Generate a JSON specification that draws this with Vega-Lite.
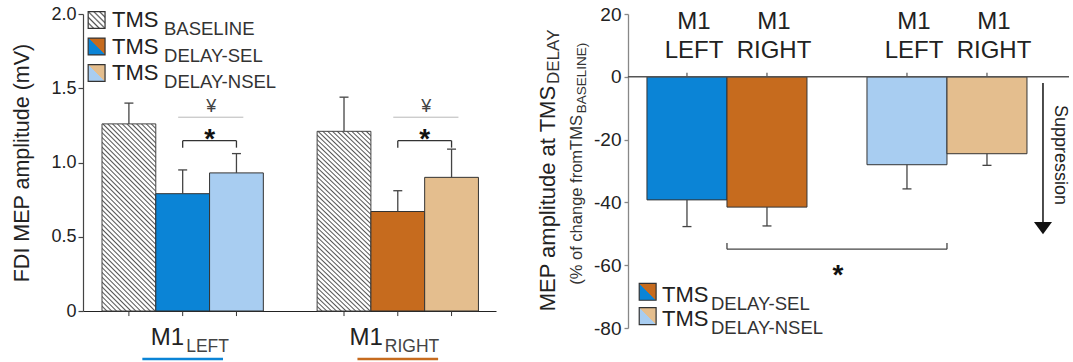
{
"$schema": "https://vega.github.io/schema/vega-lite/v6.json",
"padding": {"left": 11, "top": 5, "right": 0, "bottom": 0},
"bounds": "flush",
"spacing": 132,
"resolve": {"scale": {"xOffset": "independent"}},
"config": {"view": {"stroke": null}, "font": "Liberation Sans", "axis": {"grid": false, "labelColor": "#222", "titleColor": "#222", "titleFontWeight": "normal", "labelFont": "Liberation Sans", "titleFont": "Liberation Sans"}},
"datasets": {
"left": [
{"hemi": "LEFT", "cond": "BASELINE", "series": "LEFT BASELINE", "mep": 1.26, "upper": 1.40},
{"hemi": "LEFT", "cond": "SEL", "series": "LEFT SEL", "mep": 0.79, "upper": 0.95},
{"hemi": "LEFT", "cond": "NSEL", "series": "LEFT NSEL", "mep": 0.93, "upper": 1.06},
{"hemi": "RIGHT", "cond": "BASELINE", "series": "RIGHT BASELINE", "mep": 1.21, "upper": 1.44},
{"hemi": "RIGHT", "cond": "SEL", "series": "RIGHT SEL", "mep": 0.67, "upper": 0.81},
{"hemi": "RIGHT", "cond": "NSEL", "series": "RIGHT NSEL", "mep": 0.90, "upper": 1.09}
],
"right": [
{"cond": "SEL", "hemi": "LEFT", "series": "LEFT SEL", "pct": -39.2, "lower": -47.7},
{"cond": "SEL", "hemi": "RIGHT", "series": "RIGHT SEL", "pct": -41.5, "lower": -47.5},
{"cond": "NSEL", "hemi": "LEFT", "series": "LEFT NSEL", "pct": -28.0, "lower": -35.7},
{"cond": "NSEL", "hemi": "RIGHT", "series": "RIGHT NSEL", "pct": -24.5, "lower": -28.2}
],
"legendLeft": [{"entry": "BASELINE", "rank": 0}, {"entry": "DELAY-SEL", "rank": 1}, {"entry": "DELAY-NSEL", "rank": 2}],
"legendRight": [{"entry": "DELAY-SEL", "rank": 0}, {"entry": "DELAY-NSEL", "rank": 1}]
},
"hconcat": [
{
"width": 413, "height": 297,
"resolve": {"scale": {"y": "independent"}},
"layer": [
{
"data": {"name": "left"},
"encoding": {
"x": {"field": "hemi", "type": "nominal", "scale": {"domain": ["LEFT", "RIGHT"], "paddingInner": 0.25, "paddingOuter": 0.085, "align": 0.52}, "axis": {"title": null, "labels": false, "ticks": false, "domainColor": "#222", "domainWidth": 1.2}},
"y": {"field": "mep", "type": "quantitative", "title": "FDI MEP amplitude (mV)", "scale": {"domain": [0, 2], "nice": false}, "axis": {"values": [0, 0.5, 1, 1.5, 2], "labelExpr": "datum.value == 0 ? '0' : format(datum.value, '.1f')", "labelFontSize": 18, "titleFontSize": 21.5, "titlePadding": 17, "tickSize": 5, "labelPadding": 2, "domainColor": "#444", "tickColor": "#444", "domainWidth": 1.2, "tickWidth": 1.2}}
},
"layer": [
{"transform": [{"filter": "datum.cond === 'BASELINE'"}],
 "mark": {"type": "bar", "stroke": "#444", "strokeWidth": 1, "fill": {"gradient": "linear", "x1": 0, "y1": 1, "x2": 0.342, "y2": -0.19, "stops": [
{"offset":0,"color":"#555"},{"offset":0.006,"color":"#fff"},{"offset":0.014,"color":"#fff"},
{"offset":0.02,"color":"#555"},{"offset":0.026,"color":"#fff"},{"offset":0.034,"color":"#fff"},
{"offset":0.04,"color":"#555"},{"offset":0.046,"color":"#fff"},{"offset":0.054,"color":"#fff"},
{"offset":0.06,"color":"#555"},{"offset":0.066,"color":"#fff"},{"offset":0.074,"color":"#fff"},
{"offset":0.08,"color":"#555"},{"offset":0.086,"color":"#fff"},{"offset":0.094,"color":"#fff"},
{"offset":0.1,"color":"#555"},{"offset":0.106,"color":"#fff"},{"offset":0.114,"color":"#fff"},
{"offset":0.12,"color":"#555"},{"offset":0.126,"color":"#fff"},{"offset":0.134,"color":"#fff"},
{"offset":0.14,"color":"#555"},{"offset":0.146,"color":"#fff"},{"offset":0.154,"color":"#fff"},
{"offset":0.16,"color":"#555"},{"offset":0.166,"color":"#fff"},{"offset":0.174,"color":"#fff"},
{"offset":0.18,"color":"#555"},{"offset":0.186,"color":"#fff"},{"offset":0.194,"color":"#fff"},
{"offset":0.2,"color":"#555"},{"offset":0.206,"color":"#fff"},{"offset":0.214,"color":"#fff"},
{"offset":0.22,"color":"#555"},{"offset":0.226,"color":"#fff"},{"offset":0.234,"color":"#fff"},
{"offset":0.24,"color":"#555"},{"offset":0.246,"color":"#fff"},{"offset":0.254,"color":"#fff"},
{"offset":0.26,"color":"#555"},{"offset":0.266,"color":"#fff"},{"offset":0.274,"color":"#fff"},
{"offset":0.28,"color":"#555"},{"offset":0.286,"color":"#fff"},{"offset":0.294,"color":"#fff"},
{"offset":0.3,"color":"#555"},{"offset":0.306,"color":"#fff"},{"offset":0.314,"color":"#fff"},
{"offset":0.32,"color":"#555"},{"offset":0.326,"color":"#fff"},{"offset":0.334,"color":"#fff"},
{"offset":0.34,"color":"#555"},{"offset":0.346,"color":"#fff"},{"offset":0.354,"color":"#fff"},
{"offset":0.36,"color":"#555"},{"offset":0.366,"color":"#fff"},{"offset":0.374,"color":"#fff"},
{"offset":0.38,"color":"#555"},{"offset":0.386,"color":"#fff"},{"offset":0.394,"color":"#fff"},
{"offset":0.4,"color":"#555"},{"offset":0.406,"color":"#fff"},{"offset":0.414,"color":"#fff"},
{"offset":0.42,"color":"#555"},{"offset":0.426,"color":"#fff"},{"offset":0.434,"color":"#fff"},
{"offset":0.44,"color":"#555"},{"offset":0.446,"color":"#fff"},{"offset":0.454,"color":"#fff"},
{"offset":0.46,"color":"#555"},{"offset":0.466,"color":"#fff"},{"offset":0.474,"color":"#fff"},
{"offset":0.48,"color":"#555"},{"offset":0.486,"color":"#fff"},{"offset":0.494,"color":"#fff"},
{"offset":0.5,"color":"#555"},{"offset":0.506,"color":"#fff"},{"offset":0.514,"color":"#fff"},
{"offset":0.52,"color":"#555"},{"offset":0.526,"color":"#fff"},{"offset":0.534,"color":"#fff"},
{"offset":0.54,"color":"#555"},{"offset":0.546,"color":"#fff"},{"offset":0.554,"color":"#fff"},
{"offset":0.56,"color":"#555"},{"offset":0.566,"color":"#fff"},{"offset":0.574,"color":"#fff"},
{"offset":0.58,"color":"#555"},{"offset":0.586,"color":"#fff"},{"offset":0.594,"color":"#fff"},
{"offset":0.6,"color":"#555"},{"offset":0.606,"color":"#fff"},{"offset":0.614,"color":"#fff"},
{"offset":0.62,"color":"#555"},{"offset":0.626,"color":"#fff"},{"offset":0.634,"color":"#fff"},
{"offset":0.64,"color":"#555"},{"offset":0.646,"color":"#fff"},{"offset":0.654,"color":"#fff"},
{"offset":0.66,"color":"#555"},{"offset":0.666,"color":"#fff"},{"offset":0.674,"color":"#fff"},
{"offset":0.68,"color":"#555"},{"offset":0.686,"color":"#fff"},{"offset":0.694,"color":"#fff"},
{"offset":0.7,"color":"#555"},{"offset":0.706,"color":"#fff"},{"offset":0.714,"color":"#fff"},
{"offset":0.72,"color":"#555"},{"offset":0.726,"color":"#fff"},{"offset":0.734,"color":"#fff"},
{"offset":0.74,"color":"#555"},{"offset":0.746,"color":"#fff"},{"offset":0.754,"color":"#fff"},
{"offset":0.76,"color":"#555"},{"offset":0.766,"color":"#fff"},{"offset":0.774,"color":"#fff"},
{"offset":0.78,"color":"#555"},{"offset":0.786,"color":"#fff"},{"offset":0.794,"color":"#fff"},
{"offset":0.8,"color":"#555"},{"offset":0.806,"color":"#fff"},{"offset":0.814,"color":"#fff"},
{"offset":0.82,"color":"#555"},{"offset":0.826,"color":"#fff"},{"offset":0.834,"color":"#fff"},
{"offset":0.84,"color":"#555"},{"offset":0.846,"color":"#fff"},{"offset":0.854,"color":"#fff"},
{"offset":0.86,"color":"#555"},{"offset":0.866,"color":"#fff"},{"offset":0.874,"color":"#fff"},
{"offset":0.88,"color":"#555"},{"offset":0.886,"color":"#fff"},{"offset":0.894,"color":"#fff"},
{"offset":0.9,"color":"#555"},{"offset":0.906,"color":"#fff"},{"offset":0.914,"color":"#fff"},
{"offset":0.92,"color":"#555"},{"offset":0.926,"color":"#fff"},{"offset":0.934,"color":"#fff"},
{"offset":0.94,"color":"#555"},{"offset":0.946,"color":"#fff"},{"offset":0.954,"color":"#fff"},
{"offset":0.96,"color":"#555"},{"offset":0.966,"color":"#fff"},{"offset":0.974,"color":"#fff"},
{"offset":0.98,"color":"#555"},{"offset":0.986,"color":"#fff"},{"offset":0.994,"color":"#fff"},
{"offset":1,"color":"#555"}]}},
 "encoding": {"xOffset": {"field": "cond", "type": "nominal", "scale": {"domain": ["BASELINE", "SEL", "NSEL"], "paddingInner": 0, "paddingOuter": 0}}}},
{"transform": [{"filter": "datum.cond !== 'BASELINE'"}],
 "mark": {"type": "bar", "stroke": "#333", "strokeWidth": 1},
 "encoding": {"xOffset": {"field": "cond", "type": "nominal"}, "fill": {"field": "series", "type": "nominal", "scale": {"domain": ["LEFT SEL", "LEFT NSEL", "RIGHT SEL", "RIGHT NSEL"], "range": ["#0b84d6", "#a8cdf1", "#c66b1e", "#e4be8e"]}, "legend": null}}},
{"mark": {"type": "rule", "color": "#444", "strokeWidth": 1.3},
 "encoding": {"xOffset": {"field": "cond", "type": "nominal"}, "y2": {"field": "upper"}}},
{"mark": {"type": "tick", "color": "#444", "size": 9, "thickness": 1.3, "opacity": 1},
 "encoding": {"xOffset": {"field": "cond", "type": "nominal"}, "y": {"field": "upper", "type": "quantitative", "title": "FDI MEP amplitude (mV)"}}},
{"mark": {"type": "rule", "color": "#333", "strokeWidth": 1},
 "encoding": {"xOffset": {"field": "cond", "type": "nominal"}, "y": {"datum": 0}, "y2": {"datum": -0.034}}},
{"transform": [{"filter": "datum.cond === 'SEL'"}], "mark": {"type": "rule", "color": "#b8b8b8", "strokeWidth": 1},
 "encoding": {"x": {"field": "hemi", "type": "nominal", "bandPosition": 0.472}, "x2": {"field": "hemi", "bandPosition": 0.876}, "y": {"datum": 1.305}}},
{"transform": [{"filter": "datum.cond === 'SEL'"}], "mark": {"type": "text", "text": "¥", "fontSize": 18, "color": "#444", "baseline": "alphabetic"},
 "encoding": {"x": {"field": "hemi", "type": "nominal", "bandPosition": 0.677}, "y": {"datum": 1.34}}},
{"transform": [{"filter": "datum.cond === 'SEL'"}], "mark": {"type": "rule", "color": "#333", "strokeWidth": 1.3},
 "encoding": {"x": {"field": "hemi", "type": "nominal", "bandPosition": 0.5}, "x2": {"field": "hemi", "bandPosition": 0.833}, "y": {"datum": 1.147}}},
{"transform": [{"filter": "datum.cond !== 'BASELINE'"}], "mark": {"type": "rule", "color": "#333", "strokeWidth": 1.3},
 "encoding": {"xOffset": {"field": "cond", "type": "nominal"}, "y": {"datum": 1.147}, "y2": {"datum": 1.10}}},
{"transform": [{"filter": "datum.cond === 'SEL'"}], "mark": {"type": "text", "text": "*", "fontSize": 28, "fontWeight": "bold", "color": "#111", "baseline": "alphabetic"},
 "encoding": {"x": {"field": "hemi", "type": "nominal", "bandPosition": 0.667}, "y": {"datum": 1.10}}},
{"transform": [{"filter": "datum.cond === 'SEL'"}], "mark": {"type": "rule", "strokeWidth": 2.5},
 "encoding": {"x": {"field": "hemi", "type": "nominal", "bandPosition": 0.25}, "x2": {"field": "hemi", "bandPosition": 0.75}, "y": {"datum": -0.323}, "stroke": {"field": "hemi", "type": "nominal", "scale": {"domain": ["LEFT", "RIGHT"], "range": ["#0b84d6", "#c66b1e"]}, "legend": null}}},
{"transform": [{"filter": "datum.cond === 'SEL' && datum.hemi === 'LEFT'"}], "mark": {"type": "text", "text": "M1", "align": "right", "baseline": "alphabetic", "fontSize": 24, "dx": 1.5, "color": "#222"},
 "encoding": {"y": {"datum": -0.229}}},
{"transform": [{"filter": "datum.cond === 'SEL' && datum.hemi === 'LEFT'"}], "mark": {"type": "text", "align": "left", "baseline": "alphabetic", "fontSize": 17.5, "dx": 3.5, "color": "#444"},
 "encoding": {"y": {"datum": -0.276}, "text": {"field": "hemi"}}},
{"transform": [{"filter": "datum.cond === 'SEL' && datum.hemi === 'RIGHT'"}], "mark": {"type": "text", "text": "M1", "align": "right", "baseline": "alphabetic", "fontSize": 24, "dx": -15, "color": "#222"},
 "encoding": {"y": {"datum": -0.229}}},
{"transform": [{"filter": "datum.cond === 'SEL' && datum.hemi === 'RIGHT'"}], "mark": {"type": "text", "align": "left", "baseline": "alphabetic", "fontSize": 17.5, "dx": -13, "color": "#444"},
 "encoding": {"y": {"datum": -0.276}, "text": {"field": "hemi"}}}
]
},
{
"data": {"name": "legendLeft"},
"encoding": {"y": {"field": "rank", "type": "quantitative", "scale": {"domain": [-0.226, 10.98], "reverse": true, "nice": false, "zero": false}, "axis": null}},
"layer": [
{"transform": [{"filter": "datum.entry === 'BASELINE'"}],
 "mark": {"type": "point", "shape": "square", "size": 285, "filled": true, "opacity": 1, "stroke": "#333", "strokeWidth": 1.2, "fill": {"gradient": "linear", "x1": 0, "y1": 1, "x2": 1, "y2": 0, "stops": [
{"offset":0,"color":"#555"},{"offset":0.05,"color":"#fff"},{"offset":0.117,"color":"#fff"},
{"offset":0.1667,"color":"#555"},{"offset":0.2167,"color":"#fff"},{"offset":0.2833,"color":"#fff"},
{"offset":0.3333,"color":"#555"},{"offset":0.3833,"color":"#fff"},{"offset":0.45,"color":"#fff"},
{"offset":0.5,"color":"#555"},{"offset":0.55,"color":"#fff"},{"offset":0.6167,"color":"#fff"},
{"offset":0.6667,"color":"#555"},{"offset":0.7167,"color":"#fff"},{"offset":0.7833,"color":"#fff"},
{"offset":0.8333,"color":"#555"},{"offset":0.8833,"color":"#fff"},{"offset":0.95,"color":"#fff"},
{"offset":1,"color":"#555"}]}},
 "encoding": {"x": {"datum": "LEFT", "type": "nominal", "bandPosition": -0.0335}}},
{"transform": [{"filter": "datum.entry === 'DELAY-SEL'"}],
 "mark": {"type": "point", "shape": "square", "size": 285, "filled": true, "opacity": 1, "stroke": "#333", "strokeWidth": 1.2, "fill": {"gradient": "linear", "x1": 0, "y1": 1, "x2": 1, "y2": 0, "stops": [{"offset": 0, "color": "#0b84d6"}, {"offset": 0.5, "color": "#0b84d6"}, {"offset": 0.5, "color": "#c66b1e"}, {"offset": 1, "color": "#c66b1e"}]}},
 "encoding": {"x": {"datum": "LEFT", "type": "nominal", "bandPosition": -0.0335}}},
{"transform": [{"filter": "datum.entry === 'DELAY-NSEL'"}],
 "mark": {"type": "point", "shape": "square", "size": 285, "filled": true, "opacity": 1, "stroke": "#333", "strokeWidth": 1.2, "fill": {"gradient": "linear", "x1": 0, "y1": 1, "x2": 1, "y2": 0, "stops": [{"offset": 0, "color": "#a8cdf1"}, {"offset": 0.5, "color": "#a8cdf1"}, {"offset": 0.5, "color": "#e4be8e"}, {"offset": 1, "color": "#e4be8e"}]}},
 "encoding": {"x": {"datum": "LEFT", "type": "nominal", "bandPosition": -0.0335}}},
{"mark": {"type": "text", "text": "TMS", "align": "left", "baseline": "alphabetic", "fontSize": 22, "dx": 10, "dy": 7.3, "color": "#222"},
 "encoding": {"x": {"datum": "LEFT", "type": "nominal", "bandPosition": 0}}},
{"mark": {"type": "text", "align": "left", "baseline": "alphabetic", "fontSize": 18.5, "dx": 62, "dy": 15.5, "color": "#333"},
 "encoding": {"x": {"datum": "LEFT", "type": "nominal", "bandPosition": 0}, "text": {"field": "entry"}}}
]
}
]
},
{
"width": 441, "height": 314,
"resolve": {"scale": {"y": "independent"}},
"layer": [
{
"data": {"name": "right"},
"encoding": {
"x": {"field": "cond", "type": "nominal", "scale": {"domain": ["SEL", "NSEL"], "paddingInner": 0.2727, "paddingOuter": 0.1386, "align": 0.311}, "axis": null},
"y": {"field": "pct", "type": "quantitative", "scale": {"domain": [-80, 20], "nice": false}, "axis": {"values": [-80, -60, -40, -20, 0, 20], "labelExpr": "'' + datum.value", "title": null, "labelFontSize": 19, "tickSize": 4, "labelPadding": 3, "domainColor": "#888", "tickColor": "#888", "domainWidth": 1.3, "tickWidth": 1.3}}
},
"layer": [
{"mark": {"type": "bar", "stroke": "#333", "strokeWidth": 1},
 "encoding": {"xOffset": {"field": "hemi", "type": "nominal", "scale": {"domain": ["LEFT", "RIGHT"], "paddingInner": 0, "paddingOuter": 0}},
 "fill": {"field": "series", "type": "nominal", "scale": {"domain": ["LEFT SEL", "LEFT NSEL", "RIGHT SEL", "RIGHT NSEL"], "range": ["#0b84d6", "#a8cdf1", "#c66b1e", "#e4be8e"]}, "legend": null}}},
{"mark": {"type": "rule", "color": "#444", "strokeWidth": 1.3},
 "encoding": {"xOffset": {"field": "hemi", "type": "nominal"}, "y2": {"field": "lower"}}},
{"mark": {"type": "tick", "color": "#444", "size": 9, "thickness": 1.3, "opacity": 1},
 "encoding": {"xOffset": {"field": "hemi", "type": "nominal"}, "y": {"field": "lower", "type": "quantitative"}}},
{"transform": [{"filter": "datum.cond === 'SEL' && datum.hemi === 'LEFT'"}], "mark": {"type": "rule", "color": "#555", "strokeWidth": 1.4},
 "encoding": {"x": {"datum": "SEL", "type": "nominal", "bandPosition": -0.119}, "x2": {"datum": "NSEL", "bandPosition": 1.2625}, "y": {"datum": 0}}},
{"mark": {"type": "rule", "color": "#555", "strokeWidth": 1.2},
 "encoding": {"xOffset": {"field": "hemi", "type": "nominal"}, "y": {"datum": 0}, "y2": {"datum": 1.3}}},
{"mark": {"type": "text", "text": "M1", "fontSize": 24, "baseline": "alphabetic", "dx": 7, "color": "#222"},
 "encoding": {"xOffset": {"field": "hemi", "type": "nominal"}, "y": {"datum": 15.1}}},
{"mark": {"type": "text", "fontSize": 24, "baseline": "alphabetic", "dx": 7, "color": "#222"},
 "encoding": {"xOffset": {"field": "hemi", "type": "nominal"}, "y": {"datum": 5.9}, "text": {"field": "hemi"}}},
{"transform": [{"filter": "datum.cond === 'SEL' && datum.hemi === 'LEFT'"}], "mark": {"type": "rule", "color": "#444", "strokeWidth": 1.3},
 "encoding": {"x": {"datum": "SEL", "type": "nominal", "bandPosition": 0.5}, "x2": {"datum": "NSEL", "bandPosition": 0.5}, "y": {"datum": -54.9}}},
{"transform": [{"filter": "datum.hemi === 'LEFT'"}], "mark": {"type": "rule", "color": "#444", "strokeWidth": 1.3},
 "encoding": {"x": {"field": "cond", "type": "nominal", "bandPosition": 0.5}, "y": {"datum": -54.9}, "y2": {"datum": -52.9}}},
{"transform": [{"filter": "datum.cond === 'SEL' && datum.hemi === 'LEFT'"}], "mark": {"type": "text", "text": "*", "fontSize": 28, "fontWeight": "bold", "color": "#111", "baseline": "alphabetic"},
 "encoding": {"x": {"datum": "SEL", "type": "nominal", "bandPosition": 1.194}, "y": {"datum": -66.0}}},
{"transform": [{"filter": "datum.cond === 'SEL' && datum.hemi === 'LEFT'"}], "mark": {"type": "rule", "color": "#111", "strokeWidth": 1.5},
 "encoding": {"x": {"datum": "NSEL", "type": "nominal", "bandPosition": 1.1}, "y": {"datum": -2.0}, "y2": {"datum": -46.6}}},
{"transform": [{"filter": "datum.cond === 'SEL' && datum.hemi === 'LEFT'"}], "mark": {"type": "point", "shape": "M-1,-0.67L1,-0.67L0,0.67Z", "size": 324, "filled": true, "opacity": 1, "color": "#111"},
 "encoding": {"x": {"datum": "NSEL", "type": "nominal", "bandPosition": 1.1}, "y": {"datum": -48.2}}},
{"transform": [{"filter": "datum.cond === 'SEL' && datum.hemi === 'LEFT'"}], "mark": {"type": "text", "text": "Suppression", "angle": 90, "fontSize": 18, "align": "center", "baseline": "middle", "color": "#222"},
 "encoding": {"x": {"datum": "NSEL", "type": "nominal", "bandPosition": 1.206}, "y": {"datum": -24.9}}},
{"transform": [{"filter": "datum.cond === 'SEL' && datum.hemi === 'LEFT'"}], "mark": {"type": "text", "text": "MEP amplitude at TMS", "angle": 270, "align": "right", "baseline": "alphabetic", "fontSize": 22, "color": "#222"},
 "encoding": {"x": {"datum": "SEL", "type": "nominal", "bandPosition": -0.575}, "y": {"datum": -2.9}}},
{"transform": [{"filter": "datum.cond === 'SEL' && datum.hemi === 'LEFT'"}], "mark": {"type": "text", "text": "DELAY", "angle": 270, "align": "left", "baseline": "alphabetic", "fontSize": 17, "color": "#333"},
 "encoding": {"x": {"datum": "SEL", "type": "nominal", "bandPosition": -0.55}, "y": {"datum": -2.3}}},
{"transform": [{"filter": "datum.cond === 'SEL' && datum.hemi === 'LEFT'"}], "mark": {"type": "text", "text": "(% of change fromTMS", "angle": 270, "align": "right", "baseline": "alphabetic", "fontSize": 16.5, "color": "#333"},
 "encoding": {"x": {"datum": "SEL", "type": "nominal", "bandPosition": -0.406}, "y": {"datum": -12.2}}},
{"transform": [{"filter": "datum.cond === 'SEL' && datum.hemi === 'LEFT'"}], "mark": {"type": "text", "text": "BASELINE)", "angle": 270, "align": "left", "baseline": "alphabetic", "fontSize": 13.5, "color": "#333"},
 "encoding": {"x": {"datum": "SEL", "type": "nominal", "bandPosition": -0.381}, "y": {"datum": -11.6}}}
]
},
{
"data": {"name": "legendRight"},
"encoding": {"y": {"field": "rank", "type": "quantitative", "scale": {"domain": [-11.43, 1.49], "reverse": true, "nice": false, "zero": false}, "axis": null}},
"layer": [
{"transform": [{"filter": "datum.entry === 'DELAY-SEL'"}],
 "mark": {"type": "point", "shape": "square", "size": 285, "filled": true, "opacity": 1, "stroke": "#333", "strokeWidth": 1.2, "fill": {"gradient": "linear", "x1": 0, "y1": 1, "x2": 1, "y2": 0, "stops": [{"offset": 0, "color": "#0b84d6"}, {"offset": 0.5, "color": "#0b84d6"}, {"offset": 0.5, "color": "#c66b1e"}, {"offset": 1, "color": "#c66b1e"}]}},
 "encoding": {"x": {"datum": "SEL", "type": "nominal", "bandPosition": 0.0044}}},
{"transform": [{"filter": "datum.entry === 'DELAY-NSEL'"}],
 "mark": {"type": "point", "shape": "square", "size": 285, "filled": true, "opacity": 1, "stroke": "#333", "strokeWidth": 1.2, "fill": {"gradient": "linear", "x1": 0, "y1": 1, "x2": 1, "y2": 0, "stops": [{"offset": 0, "color": "#a8cdf1"}, {"offset": 0.5, "color": "#a8cdf1"}, {"offset": 0.5, "color": "#e4be8e"}, {"offset": 1, "color": "#e4be8e"}]}},
 "encoding": {"x": {"datum": "SEL", "type": "nominal", "bandPosition": 0.0044}}},
{"mark": {"type": "text", "text": "TMS", "align": "left", "baseline": "alphabetic", "fontSize": 22, "dx": 15, "dy": 10, "color": "#222"},
 "encoding": {"x": {"datum": "SEL", "type": "nominal", "bandPosition": 0}}},
{"mark": {"type": "text", "align": "left", "baseline": "alphabetic", "fontSize": 18.5, "dx": 64, "dy": 18, "color": "#333"},
 "encoding": {"x": {"datum": "SEL", "type": "nominal", "bandPosition": 0}, "text": {"field": "entry"}}}
]
}
]
}
]
}
